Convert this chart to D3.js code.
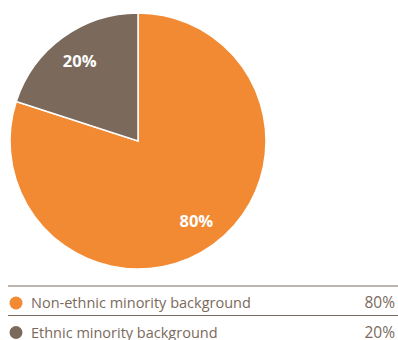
<!DOCTYPE html>
<html>
<head>
<meta charset="utf-8">
<script src="https://cdn.jsdelivr.net/npm/d3@7"></script>
<style>
  body { margin: 0; background: #fff; }
  text { font-family: "Open Sans", "Noto Sans", sans-serif; }
</style>
</head>
<body>
<svg></svg>
<script>
let width = 398;
let height = 340;

let categories = ['Non-ethnic minority background', 'Ethnic minority background'];
let values = [80, 20];
let colors = ['#f28a33', '#7b6a5c'];

let svg = d3.select('svg')
  .attr('width', width)
  .attr('height', height);

let radius = 128;
let cx = 138;
let cy = 141;

let data = categories.map((c, i) => ({name: c, value: values[i], color: colors[i]}));

// keep data order, orange starting at 12 o'clock going clockwise
let pieData = d3.pie()
  .value(d => d.value)
  .sort(null)
  (data);

let drawArcs = d3.arc()
  .outerRadius(radius)
  .innerRadius(0);

let chart = svg.append('g')
  .attr('transform', `translate(${cx}, ${cy})`);

chart.selectAll('.arc')
  .data(pieData)
  .enter()
  .append('path')
    .classed('arc', true)
    .attr('fill', d => d.data.color)
    .attr('stroke', 'white')
    .attr('stroke-width', 1.5)
    .attr('d', drawArcs);

// labels sit further out than the plain centroid
let labelArc = d3.arc()
  .outerRadius(radius * 1.55)
  .innerRadius(0);

chart.selectAll('.label')
  .data(pieData)
  .enter()
  .append('text')
    .classed('label', true)
    .attr('transform', d => `translate(${labelArc.centroid(d)})`)
    .attr('text-anchor', 'middle')
    .attr('dy', '0.35em')
    .attr('fill', 'white')
    .attr('font-size', 16.5)
    .attr('font-weight', 'bold')
    .text(d => d.data.value + '%');

// legend
let legend = svg.append('g');
let rowTop = 286;
let rowH = 29.5;

legend.selectAll('.rule')
  .data(data)
  .enter()
  .append('line')
    .attr('x1', 8)
    .attr('x2', width)
    .attr('y1', (d, i) => rowTop + i * rowH)
    .attr('y2', (d, i) => rowTop + i * rowH)
    .attr('stroke', '#7b6a5c')
    .attr('stroke-width', 1);

let rows = legend.selectAll('.row')
  .data(data)
  .enter()
  .append('g')
    .attr('transform', (d, i) => `translate(0, ${rowTop + i * rowH + 17})`);

rows.append('circle')
  .attr('cx', 16)
  .attr('cy', 0)
  .attr('r', 6.5)
  .attr('fill', d => d.color);

rows.append('text')
  .attr('x', 31)
  .attr('dy', '0.35em')
  .attr('fill', '#7b6a5c')
  .attr('font-size', 14.5)
  .text(d => d.name);

rows.append('text')
  .attr('x', 395)
  .attr('dy', '0.35em')
  .attr('text-anchor', 'end')
  .attr('fill', '#7b6a5c')
  .attr('font-size', 15.5)
  .text(d => d.value + '%');
</script>
</body>
</html>
